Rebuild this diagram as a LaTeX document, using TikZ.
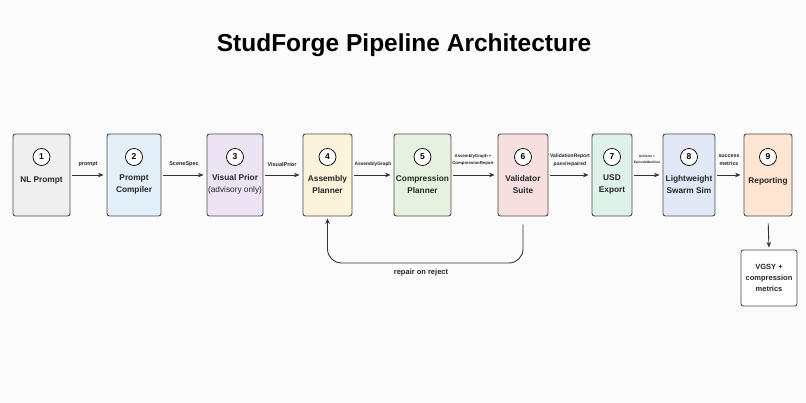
\documentclass[tikz,border=0pt]{standalone}
\usepackage{fontspec}
\setmainfont{Liberation Sans}
\usetikzlibrary{arrows.meta}
\definecolor{bgc}{HTML}{FBFBFB}
\definecolor{edge}{HTML}{4A4A4A}
\definecolor{cA}{HTML}{EFEFEF}
\definecolor{cB}{HTML}{E2EFF8}
\definecolor{cC}{HTML}{ECE4F4}
\definecolor{cD}{HTML}{FDF3DB}
\definecolor{cE}{HTML}{E6F2DF}
\definecolor{cF}{HTML}{F7DEDF}
\definecolor{cG}{HTML}{DFF2EA}
\definecolor{cH}{HTML}{E1E9F6}
\definecolor{cI}{HTML}{FDE5D2}
\tikzset{
  stage/.style={draw=edge, line width=0.9pt, rounded corners=2.5pt, minimum height=82pt, inner sep=0pt},
  numc/.style={circle, draw=black, line width=0.75pt, minimum size=17pt, inner sep=0pt, fill=white, font=\bfseries\fontsize{8.5}{9}\selectfont},
  stxt/.style={align=center, font=\bfseries\fontsize{8.3}{12.5}\selectfont, text=black!85},
  flow/.style={draw=black!80, line width=0.9pt, -{Stealth[length=5.5pt,width=4.5pt]}, shorten >=3pt, shorten <=2pt},
  lab/.style={align=center, font=\bfseries\fontsize{5.5}{7.5}\selectfont, text=black!85},
  tiny/.style={align=center, font=\bfseries\fontsize{4}{6}\selectfont, text=black!85},
}
\begin{document}
\begin{tikzpicture}[x=1pt,y=-1pt]
\fill[bgc] (0,0) rectangle (806,403);
\useasboundingbox (0,0) rectangle (806,403);
\node[font=\bfseries\fontsize{24.5}{28}\selectfont] (title) at (404,45) {StudForge Pipeline Architecture};

\node[stage, fill=cA, minimum width=57pt] (b1) at (41.5,175) {};
\node[stage, fill=cB, minimum width=54pt] (b2) at (134,175) {};
\node[stage, fill=cC, minimum width=56pt] (b3) at (235,175) {};
\node[stage, fill=cD, minimum width=49pt] (b4) at (327.5,175) {};
\node[stage, fill=cE, minimum width=57pt] (b5) at (422.5,175) {};
\node[stage, fill=cF, minimum width=50pt] (b6) at (523,175) {};
\node[stage, fill=cG, minimum width=40pt] (b7) at (612,175) {};
\node[stage, fill=cH, minimum width=52pt] (b8) at (689,175) {};
\node[stage, fill=cI, minimum width=48pt] (b9) at (768,175) {};

\node[numc] (c1) at (41.5,157) {1};
\node[numc] (c2) at (134,157) {2};
\node[numc] (c3) at (235,157) {3};
\node[numc] (c4) at (327.5,157) {4};
\node[numc] (c5) at (422.5,157) {5};
\node[numc] (c6) at (523,157) {6};
\node[numc] (c7) at (612,157) {7};
\node[numc] (c8) at (689,157) {8};
\node[numc] (c9) at (768,157) {9};

\node[stxt] (t1) at (41.5,181) {NL Prompt};
\node[stxt] (t2) at (134,184.5) {Prompt\\Compiler};
\node[stxt] (t3) at (235,184.5) {Visual Prior\\\mdseries(advisory only)};
\node[stxt] (t4) at (327.5,184.5) {Assembly\\Planner};
\node[stxt] (t5) at (422.5,184.5) {Compression\\Planner};
\node[stxt] (t6) at (523,184.5) {Validator\\Suite};
\node[stxt] (t7) at (612,184.5) {USD\\Export};
\node[stxt] (t8) at (689,184.5) {Lightweight\\Swarm Sim};
\node[stxt] (t9) at (768,181) {Reporting};

\node[stage, fill=white, minimum width=56pt, minimum height=56pt] (b10) at (769,278) {};
\node[stxt, font=\bfseries\fontsize{7.5}{11}\selectfont] (t10) at (769,278) {VGSY +\\compression\\metrics};

\draw[flow] (b1) -- (b2);
\draw[flow] (b2) -- (b3);
\draw[flow] (b3) -- (b4);
\draw[flow] (b4) -- (b5);
\draw[flow] (b5) -- (b6);
\draw[flow] (b6) -- (b7);
\draw[flow] (b7) -- (b8);
\draw[flow] (b8) -- (b9);
\draw[flow, shorten <=7pt, shorten >=2pt] (b9.south) -- (b10.north);

\node[lab] (l1) at (88,164.5) {prompt};
\node[lab] (l2) at (184,164.5) {SceneSpec};
\node[lab] (l3) at (282,164.5) {VisualPrior};
\node[lab, font=\bfseries\fontsize{4.8}{7}\selectfont] (l4) at (373,164.5) {AssemblyGraph};
\node[tiny, font=\bfseries\fontsize{4.3}{6.5}\selectfont] (l5) at (473,160) {AssemblyGraph +\\CompressionReport};
\node[lab, font=\bfseries\fontsize{5}{8}\selectfont] (l6) at (570,160) {ValidationReport\\pass/repaired};
\node[tiny, font=\bfseries\fontsize{3.3}{6}\selectfont] (l7) at (647,160) {Artifacts +\\EpisodeManifest};
\node[lab, font=\bfseries\fontsize{5.3}{8}\selectfont] (l8) at (729,160) {success\\metrics};

\coordinate (fb) at (523,263);
\draw[flow, rounded corners=14pt, shorten <=8pt, shorten >=2pt] (b6.south) -- (fb) -| (b4.south);
\node[font=\bfseries\fontsize{7.5}{9}\selectfont, text=black!85] (rep) at (421,273) {repair on reject};
\end{tikzpicture}
\end{document}
